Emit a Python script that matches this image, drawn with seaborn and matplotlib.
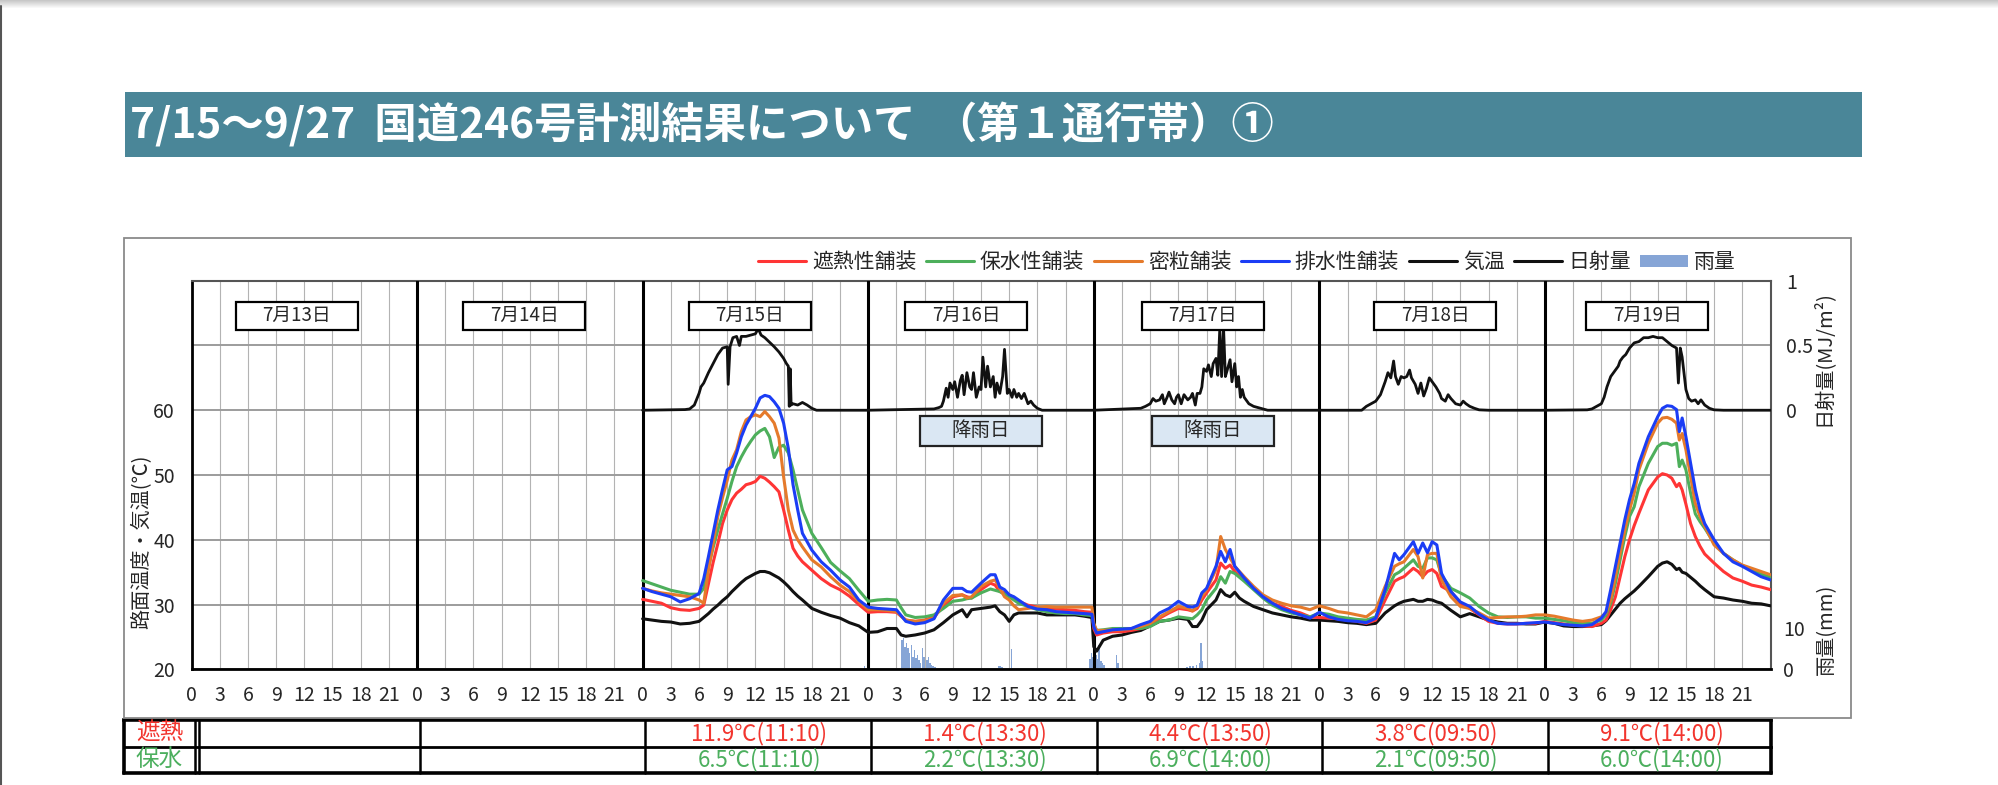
import numpy as np
import pandas as pd
import matplotlib
matplotlib.use("Agg")
import matplotlib.pyplot as plt
from matplotlib.patches import Rectangle, Patch
from matplotlib.lines import Line2D
import seaborn as sns

# ---------------- data ----------------
TITLE = "7/15～9/27  国道246号計測結果について  （第１通行帯）①"
DATE_LABELS = ["7月13日", "7月14日", "7月15日", "7月16日", "7月17日", "7月18日", "7月19日"]
RAIN_DAY_LABEL = "降雨日"
RAIN_DAYS = [3, 4]           # index of days marked 降雨日
FIRST_DATA_DAY = 2           # data starts on 7/15

SERIES = ["遮熱性舗装", "保水性舗装", "密粒舗装", "排水性舗装", "気温"]

# hour-of-day sample points for each measured day (7/15 .. 7/19)
H15 = [0, 1, 2, 3, 4, 5, 6, 6.5, 7, 7.5, 8, 8.5, 9, 9.5, 10, 10.5, 11, 11.5, 12, 12.5, 13, 13.5,
       14, 14.5, 15, 15.5, 16, 16.5, 17, 18, 19, 20, 21, 22, 23]
H16 = [0, 1, 2, 3, 3.5, 4, 5, 6, 7, 8, 9, 10, 10.5, 11, 12, 13, 13.5, 14, 14.5, 15, 15.5, 16,
       17, 18, 19, 20, 21, 22, 23, 23.8]
H17 = [0, 0.3, 1, 2, 3, 4, 5, 6, 7, 8, 9, 10, 10.5, 11, 11.5, 12, 13, 13.5, 14, 14.5, 15, 15.5,
       16, 17, 18, 19, 20, 21, 22, 23]
H18 = [0, 1, 2, 3, 4, 5, 6, 7, 8, 8.5, 9, 10, 10.5, 11, 11.5, 12, 12.5, 13, 14, 15, 16, 17, 18,
       19, 20, 21, 22, 23]
H19 = [0, 1, 2, 3, 4, 5, 6, 6.5, 7, 7.5, 8, 8.5, 9, 9.5, 10, 11, 12, 12.5, 13, 13.5, 14, 14.3,
       14.6, 15, 15.5, 16, 16.5, 17, 18, 19, 20, 21, 22, 23, 24]
DAY_HOURS = [H15, H16, H17, H18, H19]

SHANETSU = [  # 遮熱性舗装 (red)
    30.8, 30.5, 30.2, 29.5, 29.2, 29.1, 29.4, 29.9, 33.2, 36.5, 39.4, 42.5, 44.6, 46.2, 47.2, 47.8, 48.5, 48.7, 49.0, 49.8, 49.5, 48.9, 48.2, 47.4, 44.6, 41.5, 38.7, 37.5, 36.6, 35.3, 34.0, 33.0, 32.3, 31.3, 30.0,
    28.8, 28.9, 28.9, 28.8, 28.2, 27.6, 27.4, 27.6, 28.1, 29.7, 31.2, 31.5, 31.2, 31.0, 32.3, 33.3, 33.0, 32.0, 31.8, 31.5, 31.0, 30.5, 29.9, 29.6, 29.4, 29.3, 29.2, 29.1, 28.9, 28.8,
    26.3, 25.3, 25.6, 25.8, 25.8, 26.0, 26.3, 26.7, 27.9, 28.7, 29.4, 29.2, 29.0, 29.4, 30.7, 31.8, 33.8, 36.4, 35.6, 36.1, 35.1, 34.4, 33.8, 32.5, 31.2, 30.2, 29.7, 29.1, 28.7, 28.1,
    28.0, 27.9, 27.8, 27.6, 27.4, 27.1, 27.6, 30.7, 33.6, 34.0, 34.3, 35.6, 35.1, 34.3, 35.1, 35.4, 34.8, 32.8, 32.0, 30.2, 29.4, 28.4, 27.4, 27.1, 27.0, 27.0, 27.1, 27.1,
    27.4, 27.2, 27.0, 26.8, 26.7, 26.6, 27.1, 27.6, 29.2, 31.2, 34.3, 37.4, 40.0, 42.2, 44.1, 47.7, 49.7, 50.2, 50.0, 49.5, 48.2, 48.7, 47.7, 45.5, 42.5, 40.5, 39.0, 37.8, 36.4, 35.1, 34.1, 33.6, 33.0, 32.7, 32.3,
]
HOSUI = [  # 保水性舗装 (green)
    33.7, 33.2, 32.7, 32.2, 31.9, 31.6, 31.6, 32.5, 35.8, 38.8, 41.5, 44.0, 46.4, 49.0, 51.3, 52.8, 54.1, 55.2, 56.2, 56.8, 57.2, 55.9, 52.7, 54.3, 54.6, 53.4, 50.8, 47.7, 44.6, 41.0, 38.8, 36.5, 35.2, 34.0, 32.2,
    30.5, 30.7, 30.8, 30.7, 29.5, 28.4, 28.0, 28.1, 28.4, 29.4, 30.5, 30.7, 30.9, 31.0, 31.8, 32.4, 32.2, 32.0, 31.6, 31.2, 30.7, 30.2, 29.7, 29.2, 28.9, 28.7, 28.6, 28.6, 28.4, 28.3,
    26.9, 26.0, 26.1, 26.3, 26.3, 26.3, 26.3, 26.6, 27.4, 27.6, 28.1, 27.9, 27.8, 28.4, 29.2, 30.7, 32.5, 34.3, 33.3, 35.1, 34.8, 34.2, 33.6, 32.3, 31.0, 29.9, 29.2, 28.7, 28.4, 28.1,
    28.7, 28.5, 28.1, 27.9, 27.7, 27.6, 28.1, 31.8, 34.6, 35.0, 35.6, 36.9, 35.9, 35.6, 37.2, 37.2, 36.9, 34.5, 32.5, 31.8, 31.0, 29.7, 28.7, 28.1, 28.0, 28.1, 28.1, 27.9,
    27.9, 27.7, 27.5, 27.2, 27.1, 27.1, 27.6, 28.4, 30.2, 33.3, 36.9, 40.5, 43.6, 45.1, 48.2, 51.8, 54.4, 54.9, 54.9, 54.6, 54.9, 51.3, 52.3, 50.8, 47.2, 44.0, 42.8, 41.8, 39.5, 37.9, 36.9, 36.0, 35.4, 34.7, 34.2,
]
MITSURYU = [  # 密粒舗装 (orange)
    32.5, 32.1, 31.8, 31.6, 31.4, 31.2, 30.7, 30.2, 35.3, 39.5, 43.6, 46.5, 49.2, 52.3, 53.9, 56.7, 58.5, 59.0, 59.3, 59.0, 59.8, 59.0, 58.0, 55.7, 49.7, 44.6, 41.5, 40.0, 38.9, 36.9, 35.8, 34.3, 33.0, 32.0, 30.5,
    29.2, 29.2, 29.1, 28.9, 28.2, 27.6, 27.4, 27.5, 27.9, 30.2, 31.4, 31.5, 31.0, 31.2, 32.8, 33.6, 33.8, 32.5, 31.2, 30.7, 29.8, 29.2, 29.4, 29.6, 29.7, 29.6, 29.6, 29.6, 29.6, 29.6,
    27.1, 26.0, 26.0, 26.1, 26.1, 26.3, 26.6, 27.1, 28.1, 28.9, 29.7, 29.4, 29.0, 29.7, 31.2, 32.3, 35.4, 40.5, 38.5, 37.2, 35.9, 35.1, 34.3, 32.8, 31.5, 30.7, 30.2, 29.8, 29.6, 29.2,
    29.8, 29.4, 28.9, 28.7, 28.4, 28.1, 29.2, 32.8, 35.9, 36.3, 36.6, 38.5, 37.4, 34.1, 37.7, 37.9, 37.9, 33.8, 31.2, 29.7, 29.4, 28.7, 27.9, 28.0, 28.1, 28.1, 28.2, 28.4,
    28.4, 28.2, 27.9, 27.6, 27.4, 27.6, 28.1, 28.7, 30.7, 34.3, 37.9, 41.5, 44.6, 47.2, 50.8, 54.9, 58.0, 58.8, 58.9, 58.6, 58.0, 55.4, 56.4, 53.9, 49.7, 45.6, 43.6, 42.1, 39.2, 37.9, 36.9, 36.1, 35.6, 35.1, 34.6,
]
HAISUI = [  # 排水性舗装 (blue)
    32.5, 32.0, 31.6, 31.2, 30.4, 30.9, 31.7, 34.0, 37.4, 41.0, 44.6, 47.8, 50.8, 51.3, 53.4, 55.9, 57.7, 59.0, 60.3, 61.9, 62.3, 62.1, 61.3, 60.3, 58.0, 54.1, 48.5, 44.6, 41.0, 38.4, 36.6, 35.3, 33.8, 32.7, 30.7,
    29.6, 29.4, 29.3, 29.2, 28.3, 27.4, 27.0, 27.2, 27.8, 30.7, 32.5, 32.5, 32.0, 31.9, 33.3, 34.6, 34.6, 32.7, 32.3, 31.5, 31.2, 30.7, 29.7, 29.3, 29.2, 28.9, 28.8, 28.7, 28.6, 28.5,
    26.6, 25.6, 25.8, 26.1, 26.2, 26.3, 26.9, 27.4, 28.7, 29.4, 30.5, 29.7, 29.6, 29.9, 31.8, 32.5, 35.9, 38.2, 36.6, 38.5, 35.9, 35.0, 34.1, 32.5, 31.2, 30.2, 29.4, 28.9, 28.4, 27.9,
    28.8, 28.1, 27.7, 27.5, 27.4, 27.2, 27.9, 32.3, 37.9, 36.9, 37.7, 39.7, 37.9, 39.5, 38.0, 39.7, 39.2, 34.8, 32.0, 30.4, 29.7, 28.5, 27.6, 27.1, 27.0, 27.0, 27.1, 27.2,
    27.3, 27.1, 26.9, 26.8, 26.7, 26.9, 27.9, 28.9, 32.3, 35.9, 39.5, 43.1, 46.2, 48.7, 51.8, 55.9, 59.0, 60.3, 60.7, 60.6, 60.1, 56.7, 58.8, 55.9, 51.8, 47.7, 44.6, 42.5, 40.0, 37.9, 36.6, 35.9, 35.1, 34.3, 33.8,
]
KION = [  # 気温 (black)
    27.8, 27.6, 27.4, 27.3, 27.0, 27.1, 27.4, 28.0, 28.6, 29.3, 29.9, 30.6, 31.2, 32.0, 32.7, 33.4, 34.0, 34.4, 34.8, 35.1, 35.1, 34.9, 34.5, 34.1, 33.5, 32.8, 32.0, 31.3, 30.7, 29.4, 28.8, 28.3, 27.9, 27.2, 26.7,
    25.7, 25.8, 26.3, 26.3, 25.3, 25.1, 25.3, 25.6, 26.1, 27.2, 28.4, 29.2, 28.1, 29.2, 29.4, 29.6, 29.8, 28.9, 28.4, 27.4, 28.4, 28.7, 28.7, 28.7, 28.4, 28.4, 28.4, 28.4, 28.2, 28.0,
    23.5, 22.8, 24.5, 25.1, 25.3, 25.7, 26.0, 26.7, 27.4, 27.6, 27.9, 27.7, 26.6, 26.6, 27.6, 29.2, 30.7, 32.3, 31.5, 31.2, 31.9, 31.0, 30.5, 29.7, 29.2, 28.7, 28.4, 28.1, 27.9, 27.6,
    27.6, 27.5, 27.4, 27.2, 27.1, 26.9, 27.1, 28.7, 29.8, 30.2, 30.5, 30.8, 30.5, 30.5, 30.8, 30.7, 30.4, 30.2, 29.1, 28.1, 28.6, 28.1, 27.6, 27.3, 27.1, 27.1, 27.0, 27.0,
    27.3, 27.1, 26.7, 26.6, 26.6, 26.7, 26.9, 27.5, 28.4, 29.3, 30.2, 30.9, 31.5, 32.1, 32.8, 34.3, 35.9, 36.4, 36.6, 36.2, 35.4, 35.6, 35.0, 34.8, 34.2, 33.6, 32.9, 32.3, 31.2, 31.0, 30.7, 30.5, 30.2, 30.1, 29.8,
]

# 日射量 (MJ/m2): hour of day / value, per day 7/15..7/19
SUN_H = [
    [0, 4.5, 5, 5.5, 6, 6.2, 6.5, 7, 7.5, 8, 8.5, 9, 9.1, 9.3, 9.6, 10, 10.3, 10.5, 11, 11.5, 12, 12.3, 12.6, 13, 14, 14.5, 15, 15.3, 15.5, 15.6, 15.7, 15.8, 16, 16.5, 17, 17.5, 18, 18.5],
    [0, 7, 7.5, 7.8, 8, 8.3, 8.5, 8.7, 9, 9.2, 9.5, 9.8, 10, 10.2, 10.5, 10.8, 11, 11.2, 11.5, 11.8, 12, 12.2, 12.5, 12.7, 13, 13.3, 13.5, 13.7, 14, 14.3, 14.5, 14.8, 15, 15.3, 15.5, 15.8, 16, 16.3, 16.6, 17, 17.3, 17.6, 18, 18.5],
    [0, 5, 5.5, 6, 6.3, 6.6, 7, 7.3, 7.5, 7.8, 8, 8.3, 8.6, 8.8, 9, 9.3, 9.6, 10, 10.3, 10.5, 10.8, 11, 11.3, 11.5, 11.7, 12, 12.2, 12.5, 12.7, 13, 13.2, 13.4, 13.6, 13.8, 14, 14.2, 14.5, 14.7, 15, 15.2, 15.4, 15.6, 15.8, 16, 16.5, 17, 17.5, 18, 18.5],
    [0, 4.5, 5, 5.5, 6, 6.5, 7, 7.3, 7.6, 7.9, 8.1, 8.4, 8.7, 9, 9.3, 9.6, 9.8, 10.2, 10.5, 10.8, 11.1, 11.4, 11.7, 12, 12.4, 12.8, 13, 13.4, 13.7, 14, 14.5, 15, 15.3, 15.6, 16, 16.5, 17, 18],
    [0, 4.5, 5, 5.5, 6, 6.3, 6.6, 7, 7.5, 7.8, 8, 8.3, 8.6, 9, 9.5, 10, 10.5, 11, 11.5, 12, 12.5, 13, 13.5, 14, 14.2, 14.4, 14.6, 15, 15.3, 15.6, 16, 16.3, 16.6, 17, 17.5, 18, 19, 24],
]
SUN_V = [
    [0, 0.005, 0.01, 0.04, 0.13, 0.18, 0.21, 0.29, 0.36, 0.43, 0.48, 0.49, 0.2, 0.49, 0.56, 0.57, 0.50, 0.57, 0.57, 0.58, 0.59, 0.63, 0.58, 0.56, 0.49, 0.45, 0.40, 0.36, 0.34, 0.03, 0.32, 0.04, 0.05, 0.04, 0.06, 0.04, 0.015, 0],
    [0, 0.01, 0.02, 0.03, 0.07, 0.17, 0.10, 0.21, 0.16, 0.22, 0.10, 0.23, 0.27, 0.12, 0.29, 0.18, 0.16, 0.29, 0.10, 0.18, 0.16, 0.41, 0.18, 0.34, 0.18, 0.26, 0.10, 0.21, 0.13, 0.26, 0.47, 0.13, 0.16, 0.10, 0.16, 0.10, 0.13, 0.09, 0.13, 0.05, 0.07, 0.04, 0.015, 0],
    [0, 0.015, 0.03, 0.05, 0.09, 0.07, 0.08, 0.12, 0.05, 0.10, 0.14, 0.08, 0.05, 0.10, 0.12, 0.05, 0.12, 0.08, 0.10, 0.13, 0.04, 0.13, 0.13, 0.18, 0.32, 0.30, 0.35, 0.26, 0.36, 0.40, 0.27, 0.62, 0.26, 0.65, 0.26, 0.31, 0.39, 0.22, 0.36, 0.18, 0.26, 0.10, 0.16, 0.10, 0.05, 0.03, 0.02, 0.01, 0],
    [0, 0, 0.03, 0.05, 0.07, 0.12, 0.22, 0.29, 0.25, 0.38, 0.26, 0.20, 0.26, 0.25, 0.26, 0.31, 0.25, 0.20, 0.13, 0.21, 0.11, 0.17, 0.25, 0.22, 0.18, 0.13, 0.09, 0.07, 0.12, 0.09, 0.05, 0.04, 0.07, 0.05, 0.03, 0.015, 0.003, 0],
    [0, 0.003, 0.01, 0.03, 0.05, 0.10, 0.18, 0.26, 0.31, 0.34, 0.38, 0.41, 0.43, 0.48, 0.52, 0.53, 0.56, 0.56, 0.57, 0.56, 0.56, 0.53, 0.50, 0.48, 0.21, 0.48, 0.41, 0.16, 0.09, 0.07, 0.08, 0.05, 0.08, 0.04, 0.015, 0.003, 0, 0],
]

# 雨量 (mm per 10 min): hours since 7/15 00:00
RAIN_H = [23.5, 27.5, 27.67, 27.83, 28.0, 28.17, 28.33, 28.5, 28.67, 28.83, 29.0, 29.17, 29.33, 29.5,
          29.67, 29.83, 30.0, 30.17, 30.33, 30.5, 30.67, 30.83, 31.0, 37.83, 38.0, 38.17, 39.17,
          47.5, 47.67, 47.83, 48.0, 48.17, 48.33, 48.5, 48.67, 48.83, 49.0, 50.33, 50.5,
          57.83, 58.17, 58.5, 58.83, 59.17, 59.33, 59.5]
RAIN_MM = [0.7, 7.2, 7.6, 5.5, 6.3, 5.1, 3.9, 5.9, 3.1, 4.7, 2.7, 3.5, 2.3, 1.5,
           5.1, 3.1, 3.9, 2.3, 3.1, 1.5, 1.1, 0.7, 0.6, 0.8, 0.8, 0.5, 5.0,
           2.5, 4.0, 3.0, 5.0, 3.5, 2.5, 6.0, 2.0, 1.5, 1.0, 3.5, 1.5,
           0.6, 0.8, 0.7, 1.0, 1.5, 6.5, 2.0]

# table: max temperature reduction vs 密粒舗装 and time
TABLE_ROWS = ["遮熱", "保水"]
HEAT_DIFF = [None, None, 11.9, 1.4, 4.4, 3.8, 9.1]
HEAT_TIME = [None, None, "11:10", "13:30", "13:50", "09:50", "14:00"]
WATER_DIFF = [None, None, 6.5, 2.2, 6.9, 2.1, 6.0]
WATER_TIME = [None, None, "11:10", "13:30", "14:00", "09:50", "14:00"]

# ---------------- styling ----------------
COLORS = {"遮熱性舗装": "#FF3535", "保水性舗装": "#4DAF5B", "密粒舗装": "#E57A2B",
          "排水性舗装": "#1B3DF5", "気温": "#111111"}
RAIN_COLOR = "#86A5D6"
SUN_COLOR = "#111111"

sns.set_theme(style="white")
plt.rcParams["font.family"] = ["Noto Sans CJK JP", "DejaVu Sans"]
plt.rcParams["axes.unicode_minus"] = False

W, H = 1999, 785
fig = plt.figure(figsize=(W / 100, H / 100), dpi=100)
fig.patch.set_facecolor("white")


def fx(px):
    return px / W


def fy(py):
    return 1 - py / H


# page decorations (top shadow, left edge)
shadow = fig.add_axes([0, fy(9), 1, 9 / H])
shadow.imshow(np.linspace(0.78, 1.0, 9)[:, None] * np.ones((1, 10)), cmap="gray", vmin=0, vmax=1,
              aspect="auto", extent=[0, 1, 0, 1])
shadow.axis("off")
fig.add_artist(Line2D([fx(1), fx(1)], [0, fy(6)], transform=fig.transFigure, color="#555555", lw=1.5))

# title bar
fig.add_artist(Rectangle((fx(125), fy(157)), fx(1862) - fx(125), 65 / H, transform=fig.transFigure,
                         facecolor="#4A8698", edgecolor="none"))
fig.text(fx(130), fy(125), TITLE, color="white", fontsize=30.5, va="center", ha="left", weight="bold")

# chart frame
fig.add_artist(Rectangle((fx(124), fy(718)), (1851 - 124) / W, (718 - 238) / H, transform=fig.transFigure,
                         facecolor="none", edgecolor="#8a8a8a", lw=1.3))

# ---------------- axes ----------------
L, R, T, B = 191.5, 1770.5, 280.7, 669.3
NDAYS = 7
XMAX = 24 * NDAYS
PX_PER_H = (R - L) / XMAX
pos = [fx(L), fy(B), (R - L) / W, (B - T) / H]

ax_rain = fig.add_axes(pos)
ax = fig.add_axes(pos)
ax.patch.set_visible(False)
ax_sun = ax.twinx()

# rain (lowest layer)
rain_x = [48 + h for h in RAIN_H]
ax_rain.bar(rain_x, RAIN_MM, width=1 / 6, align="edge", color=RAIN_COLOR, edgecolor="none")
ax_rain.set_xlim(0, XMAX)
ax_rain.set_ylim(0, 94.8)
ax_rain.set_xticks([])
ax_rain.yaxis.tick_right()
ax_rain.yaxis.set_label_position("right")
ax_rain.set_yticks([0, 10])
ax_rain.set_yticklabels(["0", "10"])
ax_rain.tick_params(axis="y", length=0, pad=9, labelsize=14)
for s in ax_rain.spines.values():
    s.set_visible(False)
ax_rain.set_ylabel("雨量(mm)", fontsize=14.5, rotation=90, va="center", ha="center")
ax_rain.yaxis.set_label_coords((1827 - L) / (R - L), (B - 629) / (B - T))

# temperature
rows = []
time_all = [24 * (FIRST_DATA_DAY + d) + h for d, hours in enumerate(DAY_HOURS) for h in hours]
for name, vals in zip(SERIES, [SHANETSU, HOSUI, MITSURYU, HAISUI, KION]):
    for t, v in zip(time_all, vals):
        rows.append((t, v, name))
df = pd.DataFrame(rows, columns=["hour", "temp", "series"])
sns.lineplot(data=df, x="hour", y="temp", hue="series",
             hue_order=["気温", "遮熱性舗装", "保水性舗装", "密粒舗装", "排水性舗装"],
             palette=COLORS, estimator=None, linewidth=2.2, legend=False, ax=ax, zorder=4)

ax.set_xlim(0, XMAX)
ax.set_ylim(20, 80)
xt = list(range(0, XMAX, 3))
ax.set_xticks(xt)
ax.set_xticklabels([str(h % 24) for h in xt])
ax.set_yticks(list(range(20, 81, 10)))
ax.set_yticklabels(["20", "30", "40", "50", "60", "", ""])
ax.tick_params(axis="x", length=0, pad=11, labelsize=14)
ax.tick_params(axis="y", length=0, pad=12, labelsize=14)
ax.grid(axis="x", color="#b3b3b3", lw=0.8)
ax.grid(axis="y", color="#9c9c9c", lw=1.4)
ax.set_axisbelow(True)
ax.set_xlabel("")
ax.set_ylabel("路面温度・気温(℃)", fontsize=14.5, va="center", ha="center")
ax.yaxis.set_label_coords((142 - L) / (R - L), (B - 542) / (B - T))
for d in range(1, NDAYS):
    ax.axvline(24 * d, color="black", lw=2.2, zorder=3)
for side in ["left", "bottom"]:
    ax.spines[side].set_color("black")
    ax.spines[side].set_linewidth(2.0)
for side in ["top", "right"]:
    ax.spines[side].set_color("#555555")
    ax.spines[side].set_linewidth(1.5)

# solar radiation (0 aligned with 60 ℃, 1 with the top of the plot)
sun_x, sun_y = [], []
for d, (hs, vs) in enumerate(zip(SUN_H, SUN_V)):
    for h, v in zip(hs, vs):
        sun_x.append(24 * (FIRST_DATA_DAY + d) + h)
        sun_y.append(v)
sns.lineplot(x=sun_x, y=sun_y, color=SUN_COLOR, linewidth=2.0, estimator=None, ax=ax_sun, zorder=4)
ax_sun.set_ylim(-2, 1)
ax_sun.set_yticks([0, 0.5, 1])
ax_sun.set_yticklabels(["0", "0.5", "1"])
ax_sun.tick_params(axis="y", length=0, pad=11, labelsize=14)
for s in ax_sun.spines.values():
    s.set_visible(False)
ax_sun.set_ylabel("日射量(MJ/m²)", fontsize=14.5, rotation=90, va="center", ha="center")
ax_sun.yaxis.set_label_coords((1823 - L) / (R - L), (B - 358) / (B - T))

# date label boxes and rain-day boxes (in temperature data coords)
BOX_W = 122 / PX_PER_H
BOX_H = 28 / ((B - T) / 60)
DATE_SHIFT = [-0.8, -0.6, -0.6, -1.6, -0.4, 0.3, -1.1]
for d, lab in enumerate(DATE_LABELS):
    cx = 24 * d + 12 + DATE_SHIFT[d]
    cy = 74.6
    ax_sun.add_patch(Rectangle((cx - BOX_W / 2, cy - BOX_H / 2), BOX_W, BOX_H, transform=ax.transData,
                               facecolor="white", edgecolor="black", lw=1.6, zorder=6))
    ax_sun.text(cx, cy, lab, transform=ax.transData, ha="center", va="center", fontsize=13.5, zorder=7)
RAIN_SHIFT = [0.0, 0.7]
for k, d in enumerate(RAIN_DAYS):
    cx = 24 * d + 12 + RAIN_SHIFT[k]
    cy = 56.8
    ax_sun.add_patch(Rectangle((cx - BOX_W / 2, cy - 2.25), BOX_W, 4.5, transform=ax.transData,
                               facecolor="#DAE7F3", edgecolor="#222222", lw=1.6, zorder=6))
    ax_sun.text(cx, cy, RAIN_DAY_LABEL, transform=ax.transData, ha="center", va="center",
                fontsize=14, zorder=7)

# legend
handles = [Line2D([], [], color=COLORS[s], lw=2.2) for s in SERIES]
handles.append(Line2D([], [], color=SUN_COLOR, lw=2.2))
handles.append(Patch(facecolor=RAIN_COLOR, edgecolor="none"))
labels = SERIES + ["日射量", "雨量"]
fig.legend(handles, labels, loc="center right", bbox_to_anchor=(fx(1736), fy(262)), ncol=7,
           frameon=False, fontsize=15, handlelength=2.3, handletextpad=0.3, columnspacing=0.45,
           handleheight=0.5, borderaxespad=0, borderpad=0)

# ---------------- table ----------------
tab = fig.add_axes([fx(124), fy(773), (1771 - 124) / W, (773 - 720) / H])
x0 = (124 - L) / PX_PER_H
x1 = (1771 - L) / PX_PER_H
tab.set_xlim(x0, x1)
tab.set_ylim(0, 2)
tab.axis("off")
for y, lw in [(0, 2.6), (2, 2.6), (1, 2.0)]:
    tab.plot([x0, x1], [y, y], color="black", lw=lw, clip_on=False, solid_capstyle="projecting")
vlines = [x0, (195 - L) / PX_PER_H, (199 - L) / PX_PER_H] + [24 * d + 0.3 for d in range(1, NDAYS)] + [x1]
for i, x in enumerate(vlines):
    lw = 2.6 if i in (0, len(vlines) - 1) else 1.8
    tab.plot([x, x], [0, 2], color="black", lw=lw, clip_on=False)
red_t, green_t = "#F2352E", "#4CAF5E"
lab_x = (x0 + (195 - L) / PX_PER_H) / 2
tab.text(lab_x, 1.5, TABLE_ROWS[0], color=red_t, ha="center", va="center", fontsize=17)
tab.text(lab_x, 0.5, TABLE_ROWS[1], color=green_t, ha="center", va="center", fontsize=17)
for d in range(NDAYS):
    cx = 24 * d + 12 + 0.4
    if HEAT_DIFF[d] is not None:
        tab.text(cx, 1.5, f"{HEAT_DIFF[d]:.1f}℃({HEAT_TIME[d]})", color=red_t, ha="center",
                 va="center", fontsize=16)
    if WATER_DIFF[d] is not None:
        tab.text(cx, 0.5, f"{WATER_DIFF[d]:.1f}℃({WATER_TIME[d]})", color=green_t, ha="center",
                 va="center", fontsize=16)

fig.savefig("out.png", dpi=100)
